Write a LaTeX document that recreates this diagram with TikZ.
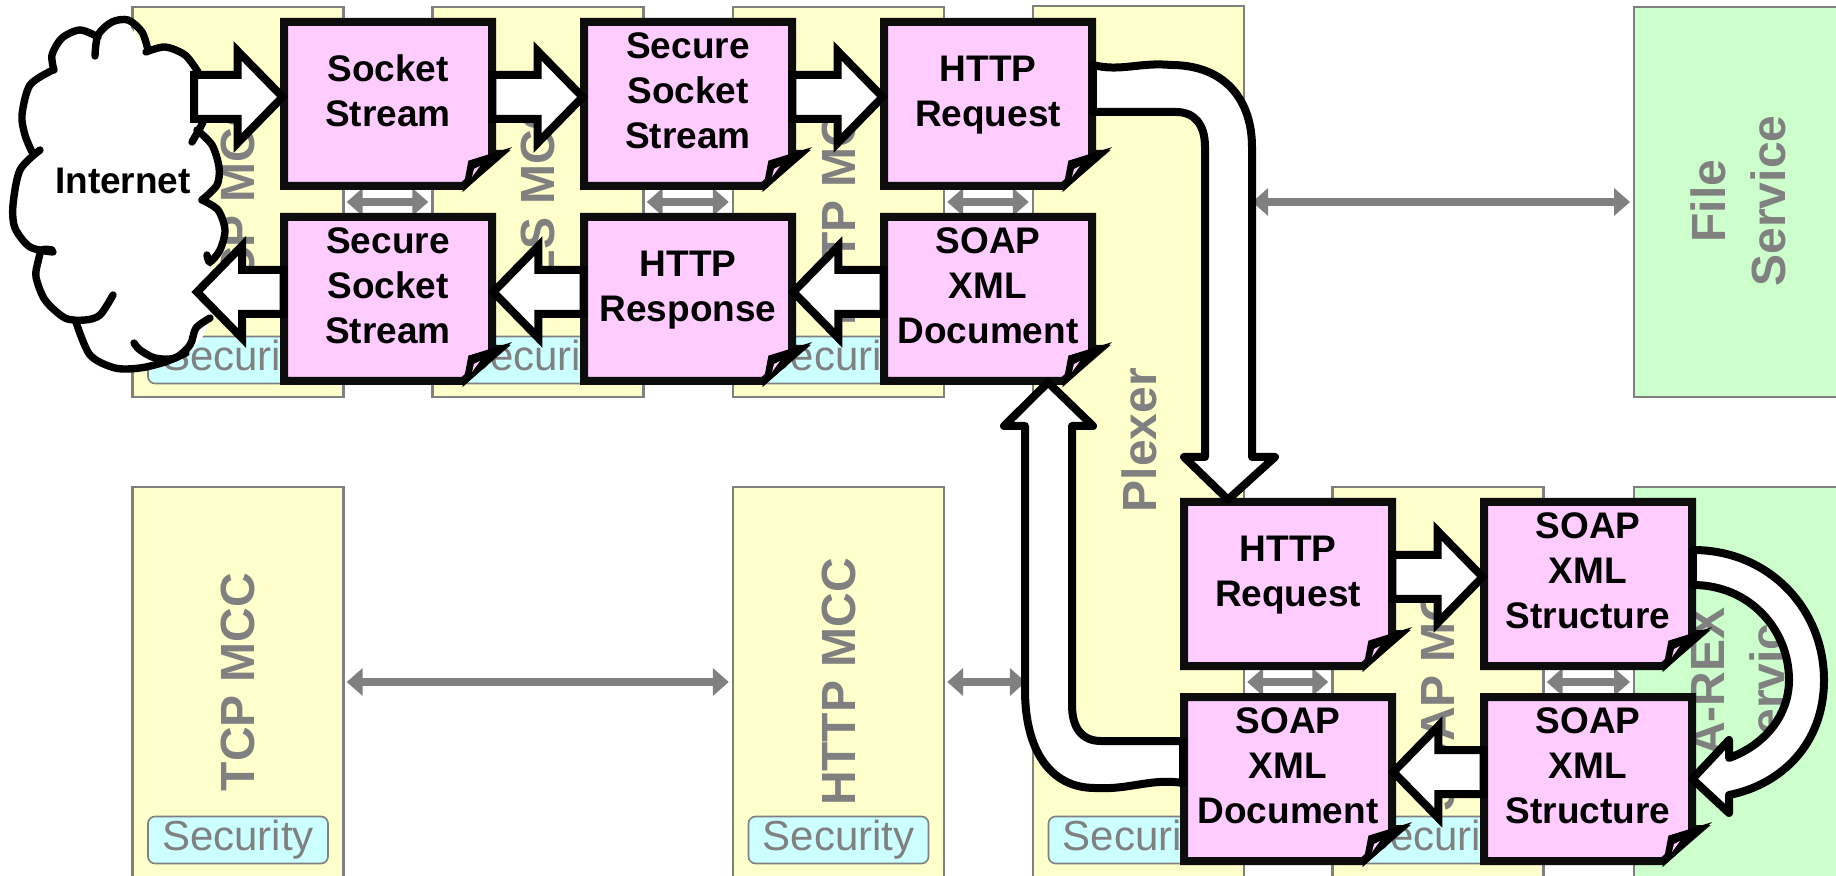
\documentclass[tikz,border=0pt]{standalone}
\usepackage{fontspec}
\setmainfont{Liberation Sans}
\usetikzlibrary{calc,arrows.meta}
\definecolor{colyellow}{HTML}{FFFFCC}
\definecolor{colgreen}{HTML}{CCFFCC}
\definecolor{colcyan}{HTML}{CCFFFF}
\definecolor{colpink}{HTML}{FFCCFF}
\definecolor{colgrey}{HTML}{808080}
\tikzset{
  column/.style={draw=colgrey,line width=1.2pt,fill=colyellow,minimum width=105.5pt,minimum height=195pt,inner sep=0pt},
  greenservice/.style={draw=colgrey,line width=1.2pt,fill=colgreen,minimum width=200pt,minimum height=195pt,inner sep=0pt},
  collabel/.style={text=colgrey,font=\fontsize{24}{30}\selectfont\bfseries,rotate=90,align=center,inner sep=0pt},
  secbox/.style={draw=colgrey,line width=0.8pt,fill=colcyan,rounded corners=3.5pt,minimum width=90pt,minimum height=23.5pt,inner sep=0pt,text=colgrey,font=\fontsize{21}{25}\selectfont},
  biarrow/.style={draw=colgrey,line width=3.6pt,{Triangle[length=8pt,width=13.5pt]}-{Triangle[length=8pt,width=13.5pt]},shorten <=1pt,shorten >=1.5pt},
  noteedge/.style={draw=black!95,line width=4pt,fill=colpink,line join=miter,miter limit=3},
  noteflap/.style={draw=black,line width=3pt,fill=black,line join=miter,miter limit=5},
  notetext/.style={minimum width=108pt,minimum height=86pt,inner sep=0pt,font=\fontsize{18.5}{22.5}\selectfont\bfseries},
  blockarrow/.style={draw=black,line width=4pt,fill=white,line join=miter,miter limit=6},
  curvearrow/.style={draw=black,line width=4pt,fill=white,line join=round},
  cloudline/.style={draw=black,line width=3.7pt,line cap=round},
}
\newcommand{\sectext}{\raisebox{-1.5pt}{Security}}
\newcommand{\notebox}[4]{%
  \begin{scope}[shift={(#2,#3)}]
    \path[noteedge] (-104,-82) -- (104,-82) -- (104,50) -- (112,50) -- (75,82) -- (-104,82) -- cycle;
    \path[noteflap] (79,80) -- (83,59) -- (112,50) -- cycle;
    \path[fill=colpink] (84,73) -- (86,65) -- (92,62) -- cycle;
  \end{scope}
  \node[notetext] (#1) at (#2,#3) {\raisebox{0.3pt}[0pt][0pt]{\begin{tabular}{@{}c@{}}#4\end{tabular}}};
}
\newcommand{\rightblock}[2]{%
  \path[blockarrow] let \p1=(#1.east),\p2=(#2.west) in
    (\x1-2pt,\y2+14.5pt) -- (\x2-21pt,\y2+14.5pt) -- (\x2-21pt,\y2+26.5pt) -- (\x2+1.5pt,\y2+3.5pt)
    -- (\x2-21pt,\y2-19.5pt) -- (\x2-21pt,\y2-7.5pt) -- (\x1-2pt,\y2-7.5pt) -- cycle;
}
\newcommand{\leftblock}[2]{%
  \path[blockarrow] let \p1=(#1.west),\p2=(#2.east) in
    (\x1+2pt,\y2+14.5pt) -- (\x2+21pt,\y2+14.5pt) -- (\x2+21pt,\y2+26.5pt) -- (\x2-1.5pt,\y2+3.5pt)
    -- (\x2+21pt,\y2-19.5pt) -- (\x2+21pt,\y2-7.5pt) -- (\x1+2pt,\y2-7.5pt) -- cycle;
}
\begin{document}
\begin{tikzpicture}[x=0.5pt,y=-0.5pt]
\useasboundingbox (0,0) rectangle (1836,876);
\clip (0,0) rectangle (1836,876);
% columns
\node[column] (tcpA) at (238,202) {};
\node[column] (tlsA) at (538,202) {};
\node[column] (httpA) at (838.5,202) {};
\node[column,minimum height=440pt] (plex) at (1138.5,446) {};
\node[column] (tcpB) at (238,682) {};
\node[column] (httpB) at (838.5,682) {};
\node[column] (soapC) at (1438,682) {};
\node[greenservice,anchor=west] (fileS) at (1633,202) {};
\node[greenservice,anchor=west] (arexS) at (1633,682) {};
% column labels
\node[collabel] (ltcpA) at (238,202) {TCP MCC};
\node[collabel] (ltlsA) at (538,202) {TLS MCC};
\node[collabel] (lhttpA) at (838.5,202) {HTTP MCC};
\node[collabel] (lplex) at (1139,440) {Plexer};
\node[collabel] (ltcpB) at (238,682) {TCP MCC};
\node[collabel] (lhttpB) at (838.5,682) {HTTP MCC};
\node[collabel] (lsoapC) at (1438,682) {SOAP MCC};
\node[collabel] (lfileS) at (1738,201) {File\\Service};
\node[collabel] (larexS) at (1738,682) {A-REX\\Service};
% security
\node[secbox] (secA) at (238,360) {\sectext};
\node[secbox] (secB) at (538,360) {\sectext};
\node[secbox] (secC) at (838.5,360) {\sectext};
\node[secbox] (secD) at (238,840) {\sectext};
\node[secbox] (secE) at (838.5,840) {\sectext};
\node[secbox] (secF) at (1138.5,840) {\sectext};
\node[secbox] (secG) at (1438,840) {\sectext};
% grey connectors
\draw[biarrow] (tcpA.east) -- (tlsA.west);
\draw[biarrow] (tlsA.east) -- (httpA.west);
\draw[biarrow] (httpA.east) -- (httpA.east -| plex.west);
\draw[biarrow,shorten <=3.5pt] (fileS.west -| plex.east) -- (fileS.west);
\draw[biarrow] (tcpB.east) -- (httpB.west);
\draw[biarrow,shorten >=3pt] (httpB.east) -- (httpB.east -| plex.west);
\draw[biarrow] (soapC.west -| plex.east) -- (soapC.west);
\draw[biarrow] (soapC.east) -- (arexS.west);
% cloud
\path[fill=white] plot[smooth cycle,tension=0.5] coordinates {(99,33)(123,20)(148,50)(170,47)(198,70)(205,125)(219,167)(205,200)(225,227)(212,265)(210,320)(186,353)(119,368)(75,320)(36,277)(14,227)(14,190)(32,150)(22,117)(53,67)(55,37)};
\draw[cloudline] plot[smooth] coordinates {(95,56)(98,35)(112,22)(128,20)(142,32)(148,50)};
\draw[cloudline] plot[smooth] coordinates {(146,52)(165,47)(185,55)(198,72)};
\draw[cloudline] plot[smooth] coordinates {(192,142)(200,128)(203,122)};
\draw[cloudline] plot[smooth] coordinates {(197,130)(212,145)(219,167)(217,185)(202,200)};
\draw[cloudline] plot[smooth] coordinates {(202,200)(218,210)(225,230)(220,250)(210,262)(207,255)};
\draw[cloudline] plot[smooth] coordinates {(210,318)(196,328)(190,345)(175,358)(155,358)(140,350)(134,343)};
\draw[cloudline] plot[smooth] coordinates {(186,353)(165,362)(140,368)(115,368)(90,355)(76,322)};
\draw[cloudline] plot[smooth] coordinates {(113,295)(100,315)(85,320)(65,318)(45,300)(36,277)(38,262)(42,250)(52,250)};
\draw[cloudline] plot[smooth] coordinates {(53,252)(30,247)(15,228)(13,205)(20,170)(40,150)};
\draw[cloudline] plot[smooth] coordinates {(32,152)(25,135)(22,115)(30,85)(53,70)};
\draw[cloudline] plot[smooth] coordinates {(54,70)(52,55)(62,38)(80,30)(98,37)};
\node[font=\fontsize{18.5}{22.5}\selectfont\bfseries,inner sep=0pt] (inet) at (123,181) {Internet};
\coordinate (inetR) at (198,104);
\coordinate (inetL) at (200,299);
% note boxes
\notebox{sockA}{388}{104}{Socket\\Stream}
\notebox{secsA}{688}{104}{Secure\\Socket\\Stream}
\notebox{reqA}{988}{104}{HTTP\\Request}
\notebox{secsB}{388}{299}{Secure\\Socket\\Stream}
\notebox{respB}{688}{299}{HTTP\\Response}
\notebox{docB}{988}{299}{SOAP\\XML\\Document}
\notebox{reqC}{1288}{584}{HTTP\\Request}
\notebox{strC}{1588}{584}{SOAP\\XML\\Structure}
\notebox{docD}{1288}{779}{SOAP\\XML\\Document}
\notebox{strD}{1588}{779}{SOAP\\XML\\Structure}
% block arrows
\rightblock{inetR}{sockA}
\rightblock{sockA}{secsA}
\rightblock{secsA}{reqA}
\leftblock{secsB}{inetL}
\leftblock{respB}{secsB}
\leftblock{docB}{respB}
\rightblock{reqC}{strC}
\leftblock{strD}{docD}
% curved block arrows
\path[curvearrow] ($(reqA.east)+(-3.5,-39)$) .. controls (1120,72) and (1140,62) .. (1171,65)
  .. controls (1225,65) and (1252,100) .. (1252,147) -- (1252,457) -- (1275,457)
  -- ($(reqC.north)+(-60,2)$) -- (1184,457) -- (1205,457) -- (1205,147)
  .. controls (1205,125) and (1195,112) .. (1176,112) -- ($(reqA.east)+(-3.5,8)$) -- cycle;
\path[curvearrow] ($(docB.south)+(60,-3)$) -- (1093,426) -- (1072,426) -- (1072,705)
  .. controls (1072,728) and (1082,741) .. (1101,741) -- ($(docD.west)+(3.5,-38)$)
  -- ($(docD.west)+(3.5,4)$) .. controls (1150,778) and (1130,790) .. (1095,788)
  .. controls (1050,788) and (1025,750) .. (1025,690) -- (1025,426) -- (1004,426) -- cycle;
\path[curvearrow] ($(strC.east)+(-3.5,-34)$) .. controls (1770,550) and (1824,610) .. (1824,680)
  .. controls (1824,745) and (1780,785) .. (1729,795) -- (1729,813) -- ($(strD.east)+(-4,0)$)
  -- (1729,740) -- (1729,758) .. controls (1765,745) and (1789,715) .. (1789,680)
  .. controls (1789,630) and (1750,585) .. ($(strC.east)+(-3.5,1)$) -- cycle;
\end{tikzpicture}
\end{document}
